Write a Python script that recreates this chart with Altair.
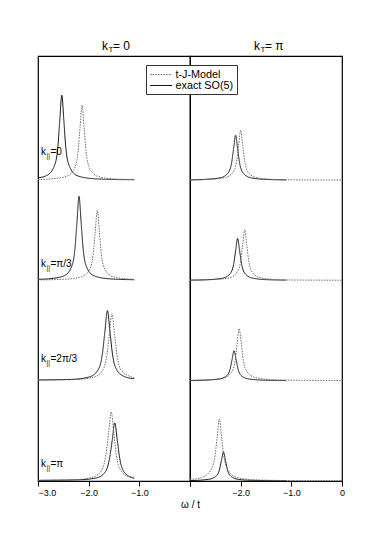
import altair as alt
import pandas as pd

# ---------------- data ----------------
series_names = ["t-J-Model", "exact SO(5)"]
k_par_text = ["=0", "=π/3", "=2π/3", "=π"]
label_lift = [0.28, 0.16, 0.22, 0.17]

# k_T = 0 column ------------------------------------------------
A0_so5_w = [-3.00, -2.83, -2.68, -2.61, -2.57, -2.53, -2.49, -2.45, -2.38, -2.23, -1.93, -1.50, -1.10]
A0_so5_h = [0.025, 0.047, 0.14, 0.32, 0.60, 0.85, 0.60, 0.32, 0.14, 0.047, 0.017, 0.008, 0.006]
A0_tj_w = [-3.00, -2.73, -2.43, -2.28, -2.21, -2.17, -2.13, -2.09, -2.05, -1.98, -1.83, -1.53, -1.10]
A0_tj_h = [0.008, 0.015, 0.041, 0.12, 0.285, 0.525, 0.75, 0.525, 0.285, 0.12, 0.041, 0.015, 0.007]

A1_so5_w = [-3.00, -2.79, -2.49, -2.34, -2.27, -2.23, -2.19, -2.15, -2.11, -2.04, -1.89, -1.59, -1.10]
A1_so5_h = [0.012, 0.017, 0.046, 0.135, 0.32, 0.59, 0.84, 0.59, 0.32, 0.135, 0.046, 0.017, 0.008]
A1_tj_w = [-3.00, -2.43, -2.13, -1.98, -1.91, -1.87, -1.83, -1.79, -1.75, -1.68, -1.53, -1.23, -1.10]
A1_tj_h = [0.006, 0.014, 0.039, 0.112, 0.266, 0.49, 0.70, 0.49, 0.266, 0.112, 0.039, 0.016, 0.012]

A2_so5_w = [-3.00, -2.33, -1.98, -1.81, -1.73, -1.68, -1.63, -1.58, -1.53, -1.45, -1.28, -1.10]
A2_so5_h = [0.008, 0.014, 0.039, 0.112, 0.266, 0.49, 0.70, 0.49, 0.266, 0.112, 0.039, 0.02]
A2_tj_w = [-3.00, -2.24, -1.89, -1.72, -1.64, -1.59, -1.54, -1.49, -1.44, -1.36, -1.19, -1.10]
A2_tj_h = [0.007, 0.013, 0.037, 0.107, 0.255, 0.47, 0.67, 0.47, 0.255, 0.107, 0.045, 0.03]

A3_so5_w = [-3.00, -2.19, -1.84, -1.67, -1.59, -1.535, -1.485, -1.435, -1.385, -1.305, -1.135, -1.10]
A3_so5_h = [0.006, 0.012, 0.032, 0.093, 0.22, 0.406, 0.58, 0.406, 0.22, 0.093, 0.034, 0.03]
A3_tj_w = [-3.00, -2.26, -1.91, -1.74, -1.66, -1.605, -1.555, -1.505, -1.455, -1.375, -1.205, -1.10]
A3_tj_h = [0.008, 0.014, 0.04, 0.11, 0.262, 0.483, 0.69, 0.483, 0.262, 0.11, 0.04, 0.025]

# k_T = pi column -----------------------------------------------
B0_so5_w = [-3.00, -2.70, -2.40, -2.25, -2.18, -2.14, -2.10, -2.06, -2.02, -1.95, -1.80, -1.50, -1.10]
B0_so5_h = [0.004, 0.009, 0.025, 0.072, 0.17, 0.315, 0.45, 0.315, 0.17, 0.072, 0.025, 0.009, 0.004]
B0_tj_w = [-3.00, -2.60, -2.30, -2.15, -2.08, -2.04, -2.00, -1.96, -1.92, -1.85, -1.70, -1.40, -1.10, 0.0]
B0_tj_h = [0.004, 0.01, 0.028, 0.08, 0.19, 0.35, 0.50, 0.35, 0.19, 0.08, 0.028, 0.01, 0.005, 0.003]

B1_so5_w = [-3.00, -2.66, -2.36, -2.21, -2.14, -2.10, -2.06, -2.02, -1.98, -1.91, -1.76, -1.46, -1.10]
B1_so5_h = [0.004, 0.008, 0.023, 0.067, 0.16, 0.294, 0.42, 0.294, 0.16, 0.067, 0.023, 0.008, 0.004]
B1_tj_w = [-3.00, -2.52, -2.22, -2.07, -2.00, -1.96, -1.92, -1.88, -1.84, -1.77, -1.62, -1.32, -1.10, 0.0]
B1_tj_h = [0.004, 0.01, 0.028, 0.082, 0.194, 0.357, 0.51, 0.357, 0.194, 0.082, 0.028, 0.01, 0.006, 0.003]

B2_so5_w = [-3.00, -2.73, -2.43, -2.28, -2.21, -2.17, -2.13, -2.09, -2.05, -1.98, -1.83, -1.53, -1.10]
B2_so5_h = [0.003, 0.006, 0.017, 0.048, 0.114, 0.21, 0.30, 0.21, 0.114, 0.048, 0.017, 0.006, 0.003]
B2_tj_w = [-3.00, -2.63, -2.33, -2.18, -2.11, -2.07, -2.03, -1.99, -1.95, -1.88, -1.73, -1.43, -1.10, 0.0]
B2_tj_h = [0.004, 0.01, 0.029, 0.083, 0.198, 0.364, 0.52, 0.38, 0.21, 0.095, 0.035, 0.012, 0.006, 0.003]

B3_so5_w = [-3.00, -2.64, -2.49, -2.42, -2.38, -2.34, -2.30, -2.26, -2.19, -2.04, -1.74, -1.10]
B3_so5_h = [0.004, 0.016, 0.046, 0.11, 0.203, 0.29, 0.203, 0.11, 0.046, 0.016, 0.006, 0.003]
B3_tj_w = [-3.00, -2.77, -2.60, -2.51, -2.465, -2.42, -2.375, -2.33, -2.24, -2.07, -1.72, -1.10, 0.0]
B3_tj_h = [0.015, 0.035, 0.10, 0.24, 0.43, 0.62, 0.43, 0.24, 0.10, 0.035, 0.012, 0.005, 0.003]

curve_table = [
    ("A", 0, "exact SO(5)", A0_so5_w, A0_so5_h), ("A", 0, "t-J-Model", A0_tj_w, A0_tj_h),
    ("A", 1, "exact SO(5)", A1_so5_w, A1_so5_h), ("A", 1, "t-J-Model", A1_tj_w, A1_tj_h),
    ("A", 2, "exact SO(5)", A2_so5_w, A2_so5_h), ("A", 2, "t-J-Model", A2_tj_w, A2_tj_h),
    ("A", 3, "exact SO(5)", A3_so5_w, A3_so5_h), ("A", 3, "t-J-Model", A3_tj_w, A3_tj_h),
    ("B", 0, "exact SO(5)", B0_so5_w, B0_so5_h), ("B", 0, "t-J-Model", B0_tj_w, B0_tj_h),
    ("B", 1, "exact SO(5)", B1_so5_w, B1_so5_h), ("B", 1, "t-J-Model", B1_tj_w, B1_tj_h),
    ("B", 2, "exact SO(5)", B2_so5_w, B2_so5_h), ("B", 2, "t-J-Model", B2_tj_w, B2_tj_h),
    ("B", 3, "exact SO(5)", B3_so5_w, B3_so5_h), ("B", 3, "t-J-Model", B3_tj_w, B3_tj_h),
]

recs = []
for col, r, s, ws, hs in curve_table:
    for w, h in zip(ws, hs):
        recs.append({"col": col, "row": r, "series": s, "omega": w,
                     "y": h + (3 - r)})
df = pd.DataFrame(recs)

lab_df = pd.DataFrame({
    "rest": k_par_text,
    "y": [lift + (3 - i) for i, lift in enumerate(label_lift)],
    "k": ["k"] * 4,
    "sub": ["||"] * 4,
})

# ---------------- chart ----------------
FONT = "Liberation Sans"
W, H = 152, 425
x_scale = alt.Scale(domain=[-3, 0], nice=False, zero=False)
y_scale = alt.Scale(domain=[0, 4.24], nice=False, zero=False)

legend = alt.Legend(title=None, orient="none", legendX=108, legendY=9,
                    fillColor="white", strokeColor="#333", padding=3.5,
                    labelFontSize=10.8, labelFont=FONT, symbolType="M-1,0H3",
                    symbolSize=121, symbolStrokeWidth=1, rowPadding=0,
                    labelOffset=14, labelColor="black")
color_enc = alt.Color("series:N", legend=legend,
                      scale=alt.Scale(domain=series_names, range=["#6e6e6e", "#1a1a1a"]))
dash_enc = alt.StrokeDash("series:N", legend=legend,
                          scale=alt.Scale(domain=series_names, range=[[1.5, 1.2], [1, 0]]))


def title_marks(sym):
    one = pd.DataFrame({"a": [1]})
    k = alt.Chart(one).mark_text(font=FONT, fontSize=12, align="left", baseline="middle", color="black").encode(
        x=alt.value(64), y=alt.value(-10), text=alt.value("k"))
    t = alt.Chart(one).mark_text(font=FONT, fontSize=8, align="left", baseline="middle", color="black").encode(
        x=alt.value(70.5), y=alt.value(-6), text=alt.value("T"))
    rest = alt.Chart(one).mark_text(font=FONT, fontSize=12, align="left", baseline="middle", color="black").encode(
        x=alt.value(75), y=alt.value(-10), text=alt.value(sym))
    return [k, t, rest]


def panel(col, axis, sym, with_labels):
    lines = alt.Chart(df[df.col == col]).mark_line(strokeWidth=1, interpolate="monotone").encode(
        x=alt.X("omega:Q", scale=x_scale, axis=axis),
        y=alt.Y("y:Q", scale=y_scale, axis=None),
        color=color_enc,
        strokeDash=dash_enc,
        detail="row:N",
        order="omega:Q",
    )
    layers = [lines] + title_marks(sym)
    if with_labels:
        lb = alt.Chart(lab_df)
        layers += [
            lb.mark_text(font=FONT, fontSize=10, align="left", baseline="middle", color="black").encode(
                x=alt.value(3), y=alt.Y("y:Q", scale=y_scale, axis=None), text="k:N"),
            lb.mark_text(font=FONT, fontSize=7, align="left", baseline="middle", dx=5.5, dy=4,
                         color="#222222").encode(
                x=alt.value(3), y=alt.Y("y:Q", scale=y_scale, axis=None), text="sub:N"),
            lb.mark_text(font=FONT, fontSize=10, align="left", baseline="middle", dx=9.5, color="black").encode(
                x=alt.value(3), y=alt.Y("y:Q", scale=y_scale, axis=None), text="rest:N"),
        ]
    return alt.layer(*layers).properties(width=W, height=H)


axis_common = dict(values=[-3, -2, -1, 0], grid=False, tickSize=5, tickColor="black",
                   domainColor="black", labelColor="black", labelFontSize=9, labelFont=FONT,
                   labelPadding=2)
left_axis = alt.Axis(labelExpr="datum.value == 0 ? '' : format(datum.value, '.1f')",
                     title="ω / t", titleX=152, titleY=18, titleAlign="center",
                     titleBaseline="top", titleFontSize=10, titleFontWeight="normal",
                     titleFont=FONT, titleColor="black", labelFlush=True, **axis_common)
right_axis = alt.Axis(labelExpr="datum.value == -3 ? '' : (datum.value == 0 ? '0' : format(datum.value, '.1f'))",
                      title=None, labelFlush=False, **axis_common)

chart = alt.hconcat(
    panel("A", left_axis, "= 0", True),
    panel("B", right_axis, "= π", False),
    spacing=0, bounds="flush",
).properties(
    padding={"left": 27, "top": 31, "right": 5, "bottom": 5}
).configure(font=FONT).configure_view(stroke="black", strokeWidth=1.2)

chart.save("out.html", embed_options={"renderer": "svg", "actions": False})
